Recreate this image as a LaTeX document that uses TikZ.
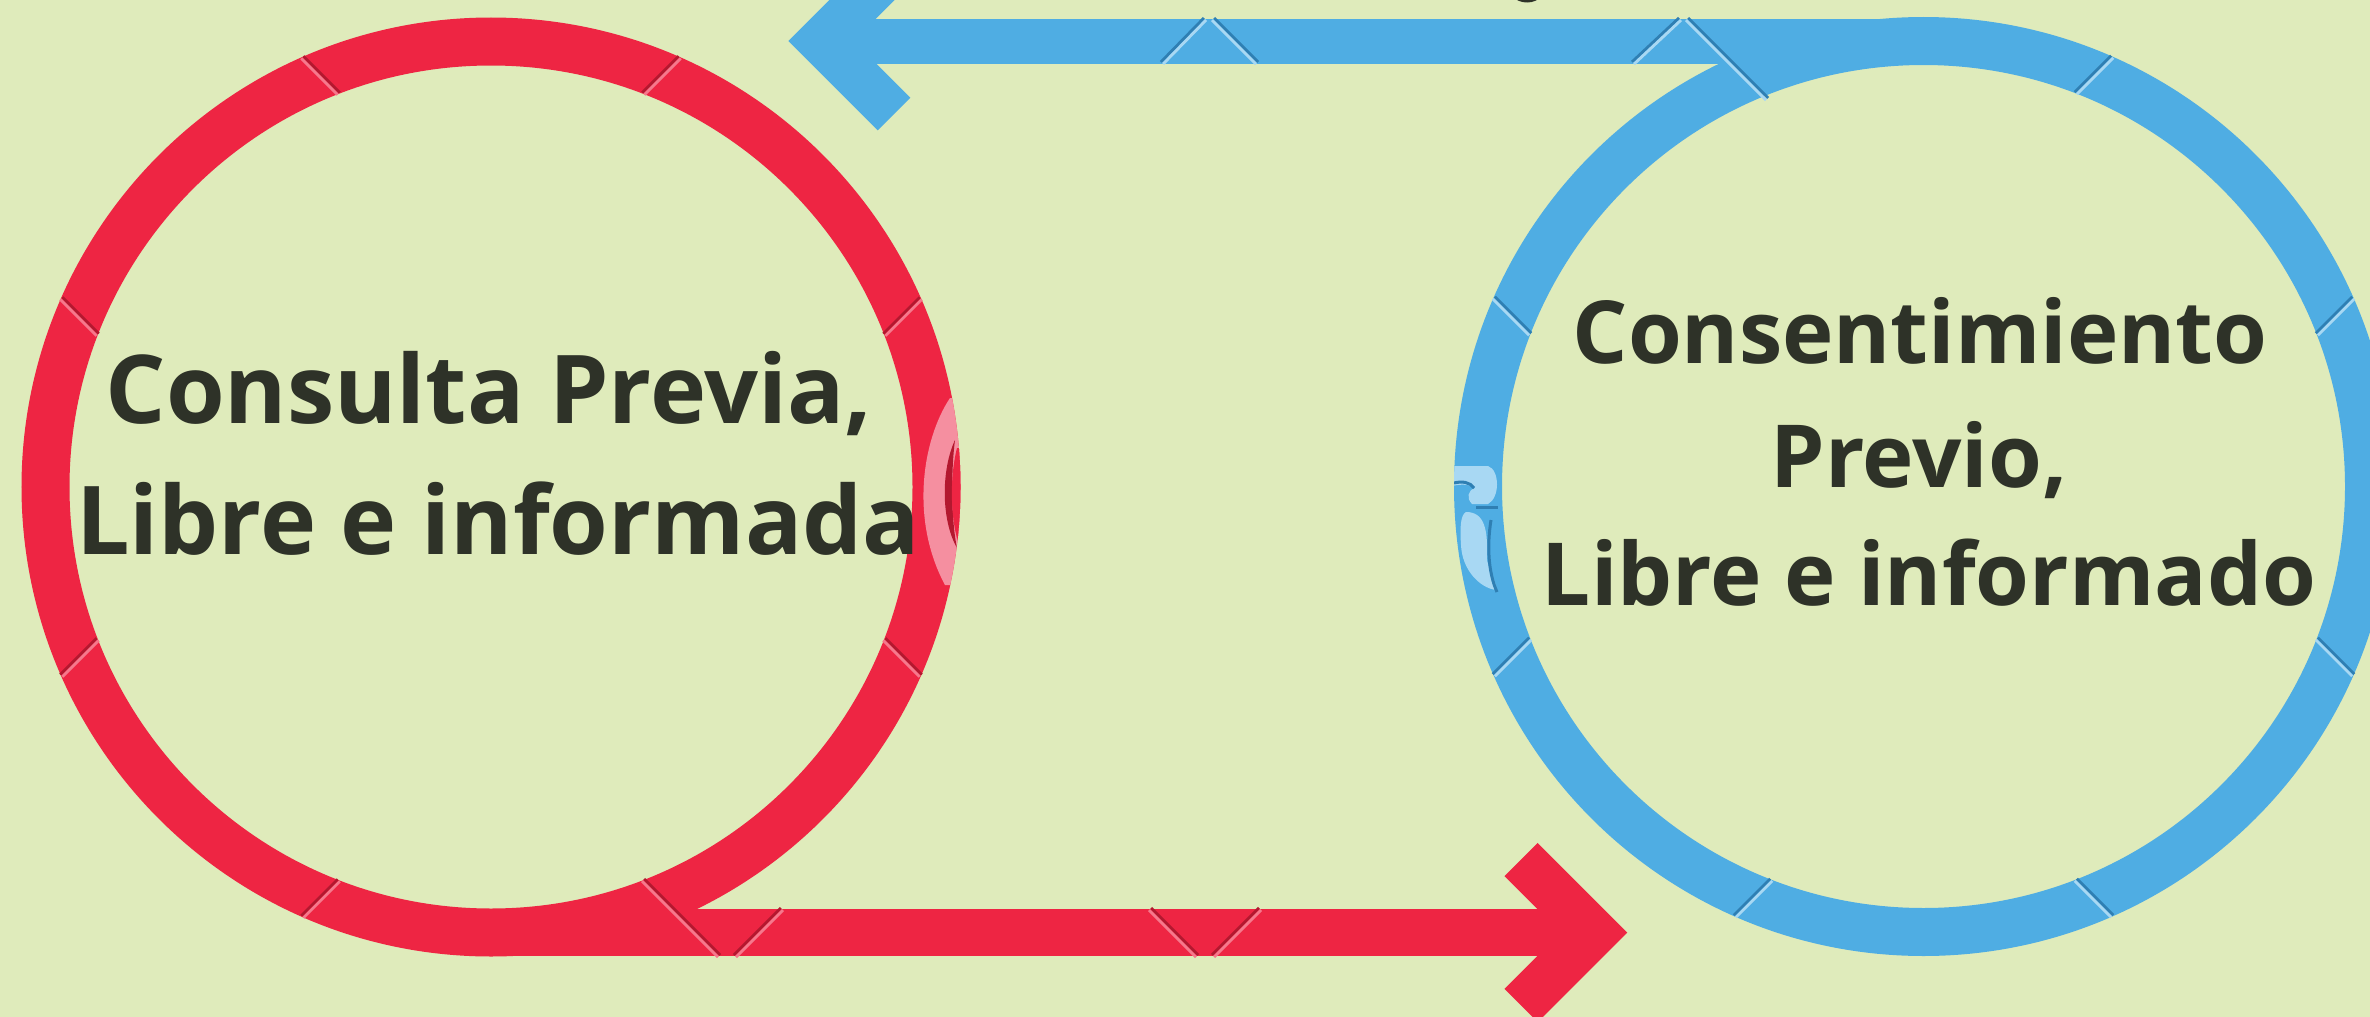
\documentclass[tikz,border=0pt]{standalone}
\usepackage{fontspec}
\setmainfont{Open Sans}
\usetikzlibrary{calc}
\definecolor{bg}{HTML}{DFEBBB}
\definecolor{ringred}{HTML}{EE2543}
\definecolor{ringblue}{HTML}{4FADE3}
\definecolor{txt}{HTML}{2E3228}
\definecolor{reddark}{HTML}{B3182F}
\definecolor{redlight}{HTML}{F6788C}
\definecolor{redwm}{HTML}{F58FA0}
\definecolor{bluedark}{HTML}{2F7FB3}
\definecolor{bluelight}{HTML}{A8D8F3}
\newcommand\seamline[4]{%
  \draw[#3,line width=2.8pt] ($(#1)!1.5pt!90:(#2)$) -- ($(#2)!1.5pt!-90:(#1)$);
  \draw[#4,line width=2.8pt] ($(#1)!1.5pt!-90:(#2)$) -- ($(#2)!1.5pt!90:(#1)$);}
\newcommand\ringseams[5]{%
  \foreach \a in {#5}{%
    \pgfmathsetmacro\sg{(cos(\a)*sin(\a)<0)?1:-1}%
    \coordinate (sa) at ({#1+445.5*cos(\a)-18.2},{#2-445.5*sin(\a)-18.2*\sg});%
    \coordinate (sb) at ({#1+445.5*cos(\a)+18.2},{#2-445.5*sin(\a)+18.2*\sg});%
    \seamline{sa}{sb}{#3}{#4}%
  }}
\begin{document}
\begin{tikzpicture}[x=1pt,y=-1pt,
  ringR/.style={circle,draw=ringred,line width=48pt,minimum size=891pt,inner sep=0pt,outer sep=0pt},
  ringB/.style={circle,draw=ringblue,line width=48pt,minimum size=891pt,inner sep=0pt,outer sep=0pt},
  barR/.style={draw=ringred,line width=47pt},
  barB/.style={draw=ringblue,line width=45pt},
  headR/.style={draw=ringred,line width=47pt,line join=miter},
  headB/.style={draw=ringblue,line width=46pt,line join=miter},
  redtxt/.style={anchor=base,text=txt,font=\bfseries\fontsize{95}{114}\selectfont,inner sep=0pt},
  bluetxt/.style={anchor=base,text=txt,font=\bfseries\fontsize{87}{104}\selectfont,inner sep=0pt}]
\fill[bg] (0,0) rectangle (2370,1017);
\useasboundingbox (0,0) rectangle (2370,1017);
\clip (0,0) rectangle (2370,1017);
% partial dark glyph at top edge
\fill[txt] (1527,-18) ellipse (21pt and 20.5pt);
\coordinate (tipR) at (1594,932.5);
\coordinate (tipB) at (821,41);
\node[ringR] (consulta) at (491,487) {};
\node[ringB] (consentimiento) at (1923.5,486.5) {};
\draw[barR] (consulta.south) -- (tipR);
\draw[headR] ($(tipR)+(-73,-73)$) -- (tipR) -- ($(tipR)+(-73,73)$);
\draw[barB] (consentimiento.north) -- (tipB);
\draw[headB] ($(tipB)+(73,-73)$) -- (tipB) -- ($(tipB)+(73,73)$);
% seams
\ringseams{491}{487}{reddark}{redlight}{22.5,67.5,112.5,157.5,202.5,247.5,337.5}
\ringseams{1923.5}{486.5}{bluedark}{bluelight}{22.5,67.5,157.5,202.5,247.5,292.5,337.5}
\coordinate (q1) at (643,880); \coordinate (q2) at (719,956);
\coordinate (q3) at (735,956); \coordinate (q4) at (782,909);
\coordinate (q5) at (1150,909); \coordinate (q6) at (1197,956);
\coordinate (q7) at (1213,956); \coordinate (q8) at (1260,909);
\seamline{q1}{q2}{reddark}{redlight}
\seamline{q3}{q4}{reddark}{redlight}
\seamline{q5}{q6}{reddark}{redlight}
\seamline{q7}{q8}{reddark}{redlight}
\coordinate (w1) at (1162,63); \coordinate (w2) at (1205,19);
\coordinate (w3) at (1213,19); \coordinate (w4) at (1257,63);
\coordinate (w5) at (1633,63); \coordinate (w6) at (1680,19);
\coordinate (w7) at (1687,19); \coordinate (w8) at (1767,99);
\seamline{w1}{w2}{bluedark}{bluelight}
\seamline{w3}{w4}{bluedark}{bluelight}
\seamline{w5}{w6}{bluedark}{bluelight}
\seamline{w7}{w8}{bluedark}{bluelight}
% faint watermark remnants
\begin{scope}
\clip (491,487) circle (469.5pt);
\fill[redwm] (950,398) .. controls (922,440) and (910,520) .. (945,585) -- (965,585) -- (965,398) -- cycle;
\fill[reddark] (955,440) .. controls (941,470) and (941,520) .. (957,548) .. controls (951,520) and (951,470) .. (955,440) -- cycle;
\fill[ringred] (957,448) .. controls (950,475) and (950,515) .. (958,542) -- (965,542) -- (965,448) -- cycle;
\end{scope}
\begin{scope}
\clip (1923.5,486.5) circle (469.5pt);
\fill[bluelight] (1452,466) -- (1488,466) .. controls (1500,470) and (1500,498) .. (1488,504) -- (1472,504) .. controls (1466,498) and (1468,490) .. (1475,488) .. controls (1470,484) and (1460,484) .. (1452,486) -- cycle;
\draw[bluedark,line width=3pt] (1454,483) .. controls (1462,481) and (1470,482) .. (1474,488);
\draw[bluedark,line width=3pt] (1476,507) -- (1498,507);
\fill[bluelight] (1466,512) .. controls (1485,512) and (1488,530) .. (1487,560) .. controls (1490,575) and (1498,585) .. (1496,590) .. controls (1480,588) and (1462,570) .. (1461,545) .. controls (1460,530) and (1460,515) .. (1466,512) -- cycle;
\draw[bluedark,line width=3pt] (1491,520) .. controls (1487,545) and (1488,572) .. (1497,592);
\end{scope}
% texts
\node[redtxt] (r1) at (489,423) {Consulta Previa,};
\node[redtxt] (r2) at (498,554) {Libre e informada};
\node[bluetxt] (b1) at (1920,363) {Consentimiento};
\node[bluetxt] (b2) at (1919,487) {Previo,};
\node[bluetxt] (b3) at (1929,605) {Libre e informado};
\end{tikzpicture}
\end{document}
